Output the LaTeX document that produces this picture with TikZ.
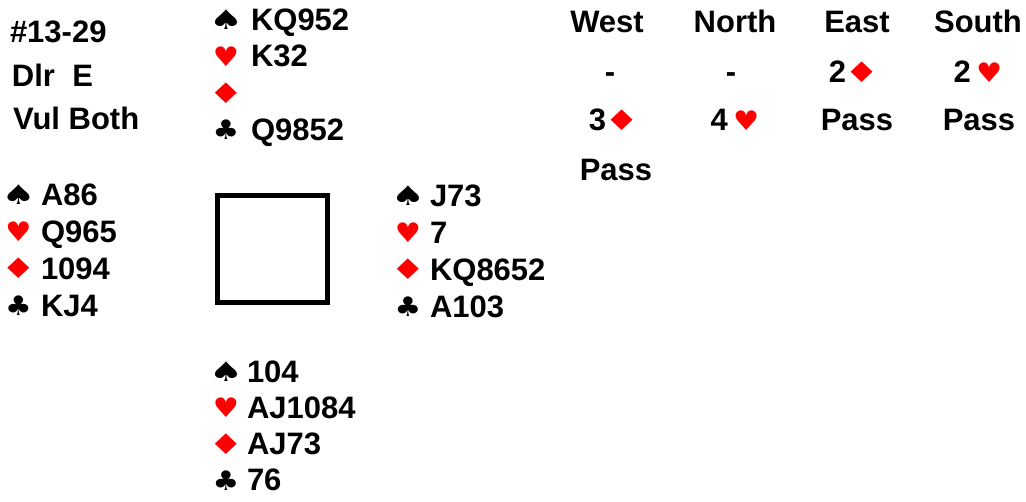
\documentclass[tikz,border=0pt]{standalone}
\usepackage{fontspec}
\setmainfont{Liberation Sans}
\newfontfamily\suitfont{DejaVu Sans}
\usepackage{xcolor}
\usepackage{tikz}

\newcommand{\SpS}{\scalebox{1.4}[1]{♠}}
\newcommand{\HeS}{\scalebox{1.08}[1]{♥}}
\newcommand{\DiS}{\scalebox{1.45}[1.05]{♦}}
\newcommand{\ClS}{\scalebox{1.1}[1]{♣}}
\newcommand{\Di}{\textcolor{red}{\suitfont\fontsize{27}{30}\selectfont\DiS}}
\newcommand{\He}{\textcolor{red}{\suitfont\fontsize{27}{30}\selectfont\HeS}}

\begin{document}
\begin{tikzpicture}[x=1pt,y=-1pt,every node/.style={font=\bfseries\fontsize{31}{36}\selectfont,inner sep=0pt,outer sep=0pt},
  card/.style={anchor=base west},
  suit/.style={font=\suitfont\fontsize{27}{30}\selectfont,anchor=center},
  call/.style={anchor=base}]
\useasboundingbox (0,0) rectangle (1026,501);
% board info
\node[card] (board) at (10,42) {\#13-29};
\node[card] (dealer) at (12,86) {Dlr\ \ E};
\node[card] (vul) at (13,129) {Vul Both};
% north
\foreach \k/\g/\col/\cards [count=\i from 0] in {s/\SpS/black/KQ952,h/\HeS/red/K32,d/\DiS/red/{},c/\ClS/black/Q9852}{
  \node[suit,text=\col] (N\k) at (226,{19.5+36.7*\i}) {\g};
  \node[card] (N\k cards) at (251,{30+36.7*\i}) {\cards};
}
% west
\foreach \k/\g/\col/\cards [count=\i from 0] in {s/\SpS/black/A86,h/\HeS/red/Q965,d/\DiS/red/1094,c/\ClS/black/KJ4}{
  \node[suit,text=\col] (W\k) at (18.5,{194.5+37*\i}) {\g};
  \node[card] (W\k cards) at (41,{205+37*\i}) {\cards};
}
% east
\foreach \k/\g/\col/\cards [count=\i from 0] in {s/\SpS/black/J73,h/\HeS/red/7,d/\DiS/red/KQ8652,c/\ClS/black/A103}{
  \node[suit,text=\col] (E\k) at (408,{195.5+37*\i}) {\g};
  \node[card] (E\k cards) at (430,{206+37*\i}) {\cards};
}
% south
\foreach \k/\g/\col/\cards [count=\i from 0] in {s/\SpS/black/104,h/\HeS/red/AJ1084,d/\DiS/red/AJ73,c/\ClS/black/76}{
  \node[suit,text=\col] (S\k) at (226,{371.5+36.5*\i}) {\g};
  \node[card] (S\k cards) at (247,{382+36*\i}) {\cards};
}
% table
\draw[line width=5pt] (217.5,195.5) rectangle (327.5,302.5);
% auction
\foreach \seat/\x in {West/607,North/735,East/857,South/978}
  \node[call] (\seat) at (\x,32) {\seat};
\node[call] (c1) at (610,82) {-};
\node[call] (c2) at (731,82) {-};
\node[call] (c3) at (854,82) {2\hspace{-2pt}\Di};
\node[call] (c4) at (978,82) {2\,\He};
\node[call] (c5) at (614,130) {3\hspace{-2pt}\Di};
\node[call] (c6) at (735,130) {4\,\He};
\node[call] (c7) at (857,130) {Pass};
\node[call] (c8) at (979,130) {Pass};
\node[call] (c9) at (616,180) {Pass};
\end{tikzpicture}
\end{document}
